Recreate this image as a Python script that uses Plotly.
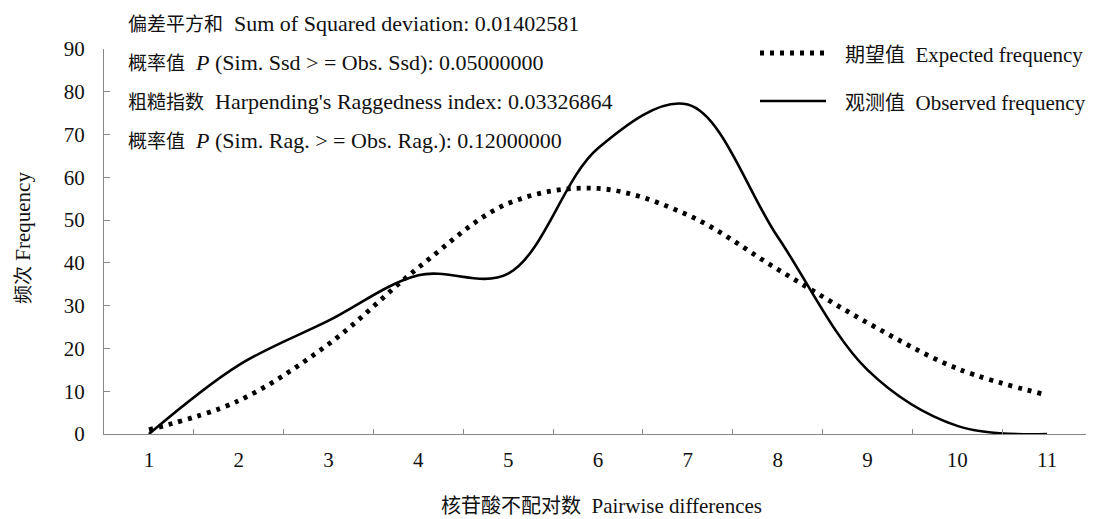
import plotly.graph_objects as go

categories = ["1", "2", "3", "4", "5", "6", "7", "8", "9", "10", "11"]
expected = [1.0, 7.8, 21.0, 38.9, 53.9, 57.4, 51.2, 38.5, 26.0, 15.3, 9.1]
observed = [0.0, 16.1, 26.5, 37.1, 37.5, 66.8, 77.0, 46.1, 15.0, 1.9, 0.0]
y_ticks = [0, 10, 20, 30, 40, 50, 60, 70, 80, 90]

stat_lines = [
    ("偏差平方和", "Sum of Squared deviation: 0.01402581"),
    ("概率值", "<i>P</i> (Sim. Ssd > = Obs. Ssd): 0.05000000"),
    ("粗糙指数", "Harpending's Raggedness index: 0.03326864"),
    ("概率值", "<i>P</i> (Sim. Rag. > = Obs. Rag.): 0.12000000"),
]
legend_items = [("期望值", "Expected frequency"), ("观测值", "Observed frequency")]

# page body has an 8px margin; figure sized/offset so the plot area lands where the reference has it
OFF = 8
W, H = 1086, 511
L, R, T, B = 96, 2, 41, 85
SERIF = "Liberation Serif, Times New Roman, serif"
CJK = "Noto Sans CJK SC"


def cjk(s, size=19):
    return f'<span style="font-family:{CJK};font-size:{size}px">{s}</span>'


def px_x(p):
    return (p - OFF - L) / (W - L - R)


def px_y(p):
    return (H - B - (p - OFF)) / (H - T - B)


DOT = dict(color="black", width=4.8, dash="4px,6px")
SOLID = dict(color="black", width=2.6)

fig = go.Figure()
fig.add_trace(go.Scatter(
    x=categories, y=expected, mode="lines",
    line=dict(**DOT, shape="spline", smoothing=1.0),
    showlegend=False, hoverinfo="skip"))
fig.add_trace(go.Scatter(
    x=categories, y=observed, mode="lines",
    line=dict(**SOLID, shape="spline", smoothing=1.0),
    showlegend=False, hoverinfo="skip"))

annotations = []
line_y = [22, 61, 100, 139]
for (zh, en), yy in zip(stat_lines, line_y):
    annotations.append(dict(
        xref="paper", yref="paper", x=px_x(126), y=px_y(yy),
        xanchor="left", yanchor="middle", showarrow=False,
        text=cjk(zh, 19) + "\u00a0\u00a0" + en,
        font=dict(family=SERIF, size=22, color="#111")))

leg_y = [53, 101]
shapes = []
for (zh, en), yy, st in zip(legend_items, leg_y, [DOT, SOLID]):
    shapes.append(dict(type="line", xref="paper", yref="paper",
                       x0=px_x(760), x1=px_x(826), y0=px_y(yy), y1=px_y(yy),
                       line=st))
    annotations.append(dict(
        xref="paper", yref="paper", x=px_x(843), y=px_y(yy),
        xanchor="left", yanchor="middle", showarrow=False,
        text=cjk(zh, 20) + "\u00a0\u00a0" + en,
        font=dict(family=SERIF, size=21, color="#111")))

annotations.append(dict(
    xref="paper", yref="paper", x=px_x(601), y=px_y(504),
    xanchor="center", yanchor="middle", showarrow=False,
    text=cjk("核苷酸不配对数", 20) + "\u00a0\u00a0Pairwise differences",
    font=dict(family=SERIF, size=21, color="#111")))
annotations.append(dict(
    xref="paper", yref="paper", x=px_x(21), y=px_y(238),
    xanchor="center", yanchor="middle", showarrow=False, textangle=-90,
    text=cjk("频次", 19) + "\u00a0Frequency",
    font=dict(family=SERIF, size=21, color="#111")))

fig.update_layout(
    width=W, height=H,
    margin=dict(l=L, r=R, t=T, b=B),
    paper_bgcolor="white", plot_bgcolor="white",
    font=dict(family=SERIF, size=21, color="#111"),
    annotations=annotations, shapes=shapes,
    xaxis=dict(type="category", categoryorder="array", categoryarray=categories,
               tickson="boundaries", ticks="inside", ticklen=5, tickcolor="#888",
               showline=True, linecolor="#888", linewidth=1.2, showgrid=False,
               zeroline=False, ticklabelstandoff=7, range=[-0.5, 10.5],
               tickfont=dict(family=SERIF, size=21, color="#111")),
    yaxis=dict(range=[0, 90], tickvals=y_ticks, ticks="inside", ticklen=6,
               tickcolor="#888", showline=True, linecolor="#888", linewidth=1.2,
               showgrid=False, zeroline=False, ticklabelstandoff=14,
               tickfont=dict(family=SERIF, size=21, color="#111")),
)

fig.write_html("out.html")
